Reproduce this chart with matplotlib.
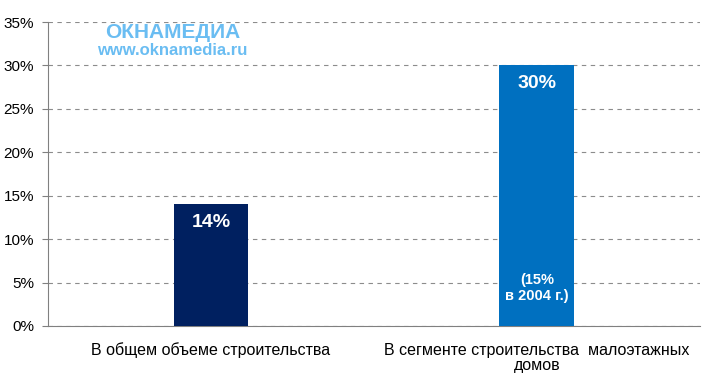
import matplotlib.pyplot as plt

plt.rcParams['font.family'] = ['Liberation Sans', 'DejaVu Sans']

categories = ["В общем объеме строительства", "В сегменте строительства  малоэтажных\nдомов"]
values = [14, 30]
labels = ["14%", "30%"]
colors = ["#002060", "#0070C0"]
yticks = [0, 5, 10, 15, 20, 25, 30, 35]

fig = plt.figure(figsize=(7.02, 3.75), dpi=100)
ax = fig.add_axes([0.0684, 0.1307, 0.9286, 0.8106])

x = list(range(len(categories)))
ax.bar(x, values, width=0.23, color=colors, zorder=3)

ax.set_xlim(-0.5, 1.5)
ax.set_ylim(0, 35)
ax.set_yticks(yticks)
ax.set_yticklabels([f"{v}%" for v in yticks], fontsize=11)
ax.set_xticks(x)
ax.set_xticklabels(categories, fontsize=11.5, linespacing=1.05)
ax.tick_params(axis='x', length=0, pad=12)
ax.tick_params(axis='y', length=4, color='#808080', pad=6)

ax.grid(axis='y', color='#8c8c8c', linestyle=(0, (4, 4)), linewidth=0.8, zorder=0)
for s in ['top', 'right']:
    ax.spines[s].set_visible(False)
for s in ['left', 'bottom']:
    ax.spines[s].set_color('#808080')

# подписи значений
for i, (v, lab) in enumerate(zip(values, labels)):
    ax.text(i, v - 2.1, lab, color='white', fontsize=14, fontweight='bold',
            ha='center', va='center', zorder=4)
ax.text(1, 4.4, "(15%\nв 2004 г.)", color='white', fontsize=10.5, fontweight='bold',
        ha='center', va='center', linespacing=1.15, zorder=4)

# водяной знак
fig.text(0.246, 0.912, "ОКНАМЕДИА", color='#6ABDF2', fontsize=15,
         fontweight='bold', ha='center', va='center')
fig.text(0.246, 0.866, "www.oknamedia.ru", color='#6ABDF2', fontsize=12,
         fontweight='bold', ha='center', va='center')

fig.savefig("out.png", dpi=100)
